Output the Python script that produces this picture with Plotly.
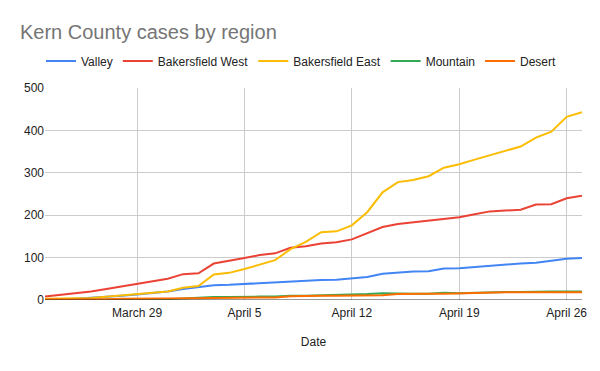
import plotly.graph_objects as go
import pandas as pd

dates = pd.date_range("2020-03-23", "2020-04-27", freq="D")

valley = [1, 1, 3, 5, 7, 10, 13, 16, 20, 26, 30, 35, 36, 38, 40, 42, 43, 46, 47, 48,
          51, 54, 62, 65, 67, 68, 74, 75, 78, 81, 84, 86, 88, 92, 97, 99]
bak_west = [8, 12, 16, 20, 26, 32, 38, 44, 50, 61, 63, 86, 92, 99, 106, 110, 123, 127, 133, 136,
            143, 157, 172, 179, 183, 186, 190, 195, 202, 209, 211, 213, 225, 226, 240, 246]
bak_east = [3, 3, 4, 5, 8, 11, 14, 17, 20, 29, 33, 60, 64, 73, 83, 94, 120, 137, 160, 162,
            176, 207, 254, 278, 283, 292, 312, 320, 331, 341, 352, 362, 383, 397, 432, 443]
mountain = [0, 0, 0, 0, 0, 0, 0, 1, 2, 4, 5, 7, 7, 8, 8, 8, 10, 10, 11, 11,
            12, 14, 16, 15, 15, 15, 17, 16, 17, 19, 19, 19, 20, 20, 20, 20]
desert = [1, 1, 1, 2, 2, 3, 3, 3, 4, 4, 4, 5, 5, 5, 6, 6, 9, 10, 10, 10,
          10, 11, 11, 14, 15, 15, 15, 16, 17, 18, 18, 18, 18, 18, 18, 18]

series_names = ["Valley", "Bakersfield West", "Bakersfield East", "Mountain", "Desert"]
series_values = [valley, bak_west, bak_east, mountain, desert]
colors = ["#4285F4", "#EA4335", "#FBBC04", "#34A853", "#FF6D01"]

tick_dates = ["2020-03-29", "2020-04-05", "2020-04-12", "2020-04-19", "2020-04-26"]
tick_labels = ["March 29", "April 5", "April 12", "April 19", "April 26"]
y_ticks = [0, 100, 200, 300, 400, 500]

fig = go.Figure()
for name, vals, col in zip(series_names, series_values, colors):
    fig.add_trace(go.Scatter(x=dates, y=vals, name=name, mode="lines",
                             line=dict(color=col, width=2)))

W, H = 592, 363
font_family = "Liberation Sans, Arial, sans-serif"
fig.update_layout(
    width=W, height=H,
    margin=dict(l=37, r=18, t=80, b=71, autoexpand=False),
    paper_bgcolor="white", plot_bgcolor="white",
    font=dict(family=font_family, size=12, color="#222222"),
    title=dict(text="Kern County cases by region", x=12/W, xref="container", xanchor="left",
               y=1 - 24/H, yref="container", yanchor="middle", pad=dict(l=0, t=0, b=0, r=0),
               font=dict(size=20, color="#757575", family=font_family)),
    legend=dict(orientation="h", x=33/W, xref="container", xanchor="left",
                y=1 - 53/H, yref="container", yanchor="middle",
                font=dict(size=12, color="#222222"), itemwidth=30, traceorder="normal"),
    showlegend=True,
)
fig.update_xaxes(range=[dates[0], dates[-1]], tickvals=pd.to_datetime(tick_dates), ticktext=tick_labels,
                 showgrid=True, gridcolor="#cccccc", gridwidth=1, zeroline=False,
                 showline=False, ticks="", ticklabelstandoff=4,
                 title=dict(text="Date", font=dict(size=12, color="#222222"), standoff=18))
fig.update_yaxes(range=[0, 500], tickvals=y_ticks, showgrid=True, gridcolor="#cccccc",
                 zeroline=False, showline=False, ticks="", ticklabelstandoff=0)
fig.add_shape(type="line", xref="paper", yref="y", x0=0, x1=1, y0=0, y1=0,
              line=dict(color="#333333", width=1))

fig.write_html("out.html")
